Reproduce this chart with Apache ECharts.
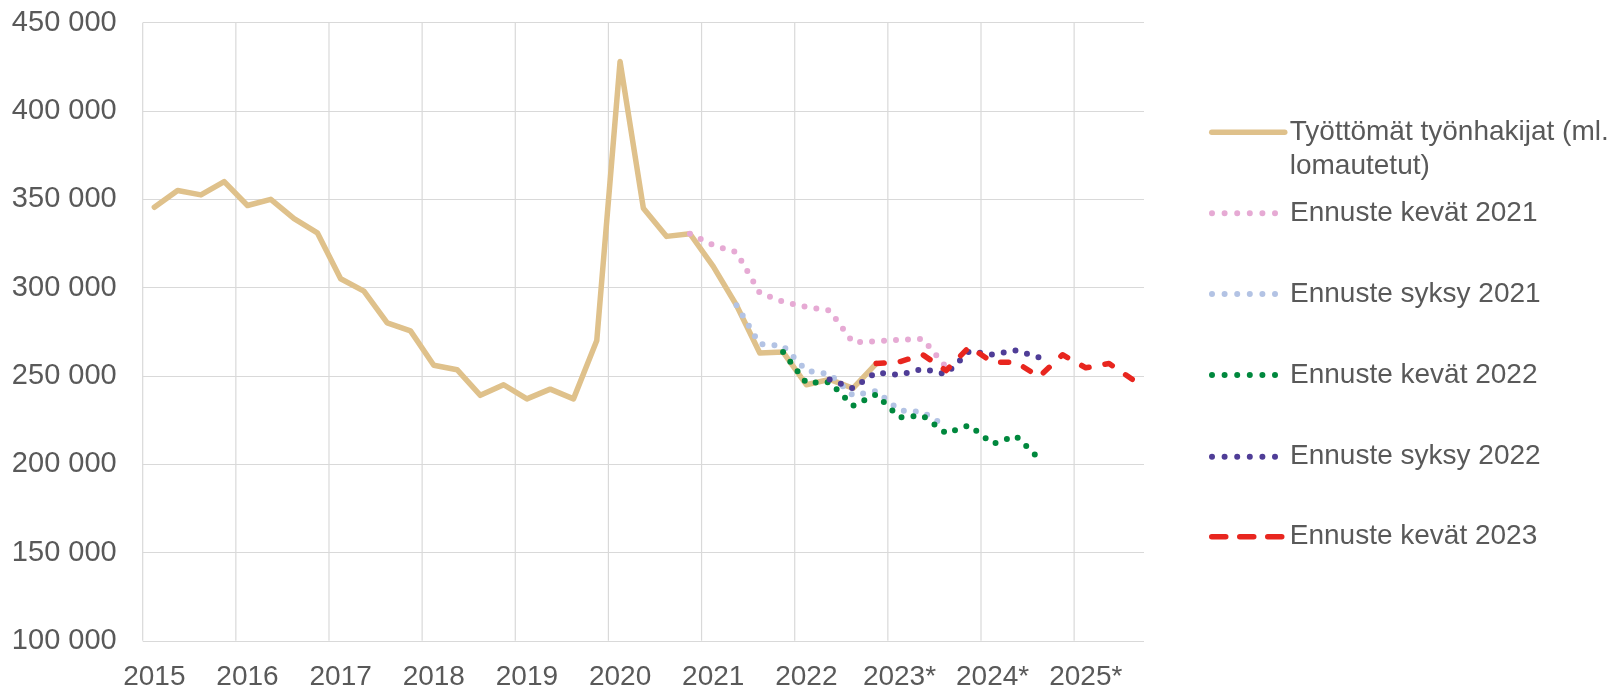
<!DOCTYPE html>
<html>
<head>
<meta charset="utf-8">
<script src="https://cdn.jsdelivr.net/npm/echarts@6/dist/echarts.min.js"></script>
<style>
  html, body { margin: 0; padding: 0; background: #fff; }
  #chart { width: 1624px; height: 687px; }
</style>
</head>
<body>
<div id="chart"></div>
<script>
// vuosien nimiöt x-akselille (neljännesvuosittain)
const yearLabels = ['2015', '2016', '2017', '2018', '2019', '2020', '2021', '2022', '2023*', '2024*', '2025*']
const quarters = ['Q1', 'Q2', 'Q3', 'Q4']
const categories = yearLabels.flatMap(y => quarters.map(q => y + ' ' + q)).slice(0, 43)

const yTicks = [100000, 150000, 200000, 250000, 300000, 350000, 400000, 450000]

// toteutunut
const tyottomat = [
  345500, 355000, 352500, 360000,
  346500, 350000, 339000, 331000,
  305000, 298000, 280000, 275500,
  256000, 253500, 239000, 245000,
  237000, 242500, 237000, 270000,
  428000, 345000, 329000, 330500,
  312000, 290000, 263000, 263500,
  245000, 248000, 243000, 257000
]

// ennusteet, alkavat indeksistä start
const kevat2021Start = 23
const kevat2021 = [330500, 324000, 320000, 297000, 292000, 289000, 287000, 269000, 269500, 270500, 271000, 255000]

const syksy2021Start = 25
const syksy2021 = [290000, 268000, 267000, 253000, 251000, 239000, 241500, 230500, 229500, 221500]

const kevat2022Start = 27
const kevat2022 = [263500, 246000, 246500, 233000, 239500, 226500, 227500, 217500, 222000, 211500, 216000, 203000]

const syksy2022Start = 29
const syksy2022 = [248000, 243000, 252000, 250500, 254000, 251000, 264000, 262000, 264500, 260500]

const kevat2023Start = 31
const kevat2023 = [257000, 258000, 262000, 253000, 266500, 257700, 257700, 249500, 262000, 254600, 257000, 248000]

const place = (start, vals) => categories.map((c, i) => (i >= start && i < start + vals.length) ? vals[i - start] : null)

const textColor = '#595959'
const gridColor = '#D9D9D9'
const font = 'Liberation Sans, Arial, sans-serif'
const dots = [0, 12]

const seriesDefs = [
  { name: 'Työttömät työnhakijat (ml.\nlomautetut)', data: tyottomat, color: '#DFC18B', width: 5.5, type: 'solid', legendType: 'solid', y: 132.3 },
  { name: 'Ennuste kevät 2021', data: place(kevat2021Start, kevat2021), color: '#E6AAD4', width: 6, type: dots, legendType: [0, 12.6], y: 213.3 },
  { name: 'Ennuste syksy 2021', data: place(syksy2021Start, syksy2021), color: '#B3C3E4', width: 6, type: dots, legendType: [0, 12.6], y: 294 },
  { name: 'Ennuste kevät 2022', data: place(kevat2022Start, kevat2022), color: '#00883D', width: 6, type: dots, legendType: [0, 12.6], y: 375 },
  { name: 'Ennuste syksy 2022', data: place(syksy2022Start, syksy2022), color: '#4F3D97', width: 6, type: dots, legendType: [0, 12.6], y: 456.7 },
  { name: 'Ennuste kevät 2023', data: place(kevat2023Start, kevat2023), color: '#E8261F', width: 5.5, type: [8, 16.2], legendType: [14, 14], y: 536.7 }
]

const chart = echarts.init(document.getElementById('chart'))

// yksi selite per sarja, jotta rivit saa täsmälleen paikoilleen
const legends = seriesDefs.map((s, i) => ({
  data: [s.name],
  orient: 'vertical',
  left: 1209,
  top: i === 0 ? s.y - 51 : s.y - 17,
  padding: 0,
  itemWidth: 73,
  itemHeight: 1,
  selectedMode: false,
  itemStyle: { color: 'rgba(0,0,0,0)', borderWidth: 0, opacity: 0 },
  lineStyle: { width: s.width, type: s.legendType, cap: 'round' },
  // kaksirivinen nimi: tyhjä rivi yläpuolelle, jolloin merkki osuu ensimmäiselle riville
  formatter: n => (n.indexOf('\n') >= 0 ? '\u00a0\n' + n : n),
  textStyle: {
    color: textColor,
    fontFamily: font,
    fontSize: 28,
    lineHeight: 34
  }
}))

// pystyviivat vuosien rajoille (ei viivaa oikeaan reunaan)
const yearStarts = yearLabels.map((y, i) => categories[i * 4])

const gridSeries = {
  type: 'custom',
  silent: true,
  z: 1,
  data: yearStarts.map(c => [c, yTicks[0]]),
  renderItem: (params, api) => {
    const half = api.size([1, 0])[0] / 2
    const x = api.coord([api.value(0), yTicks[0]])[0] - half
    const cs = params.coordSys
    return {
      type: 'line',
      shape: { x1: x, y1: cs.y, x2: x, y2: cs.y + cs.height },
      style: { stroke: gridColor, lineWidth: 1.2 }
    }
  }
}

const option = {
  animation: false,
  backgroundColor: '#ffffff',
  grid: { left: 142.7, right: 480, top: 22.7, bottom: 46.2, containLabel: false, outerBoundsMode: 'none' },
  legend: legends,
  xAxis: {
    type: 'category',
    data: categories,
    boundaryGap: true,
    axisLine: { show: false },
    axisTick: { show: false },
    axisLabel: {
      interval: 3,
      margin: 22,
      color: textColor,
      fontFamily: font,
      fontSize: 28,
      formatter: v => v.split(' ')[0]
    },
    splitLine: { show: false }
  },
  yAxis: {
    type: 'value',
    min: yTicks[0],
    max: yTicks[yTicks.length - 1],
    interval: 50000,
    axisLine: { show: false },
    axisTick: { show: false },
    axisLabel: {
      margin: 26,
      padding: [4, 0, 0, 0],
      color: textColor,
      fontFamily: font,
      fontSize: 29,
      formatter: v => String(v).replace(/\B(?=(\d{3})+(?!\d))/g, ' ')
    },
    splitLine: { lineStyle: { color: gridColor, width: 1.2 } }
  },
  series: [gridSeries].concat(seriesDefs.map(s => ({
    name: s.name,
    type: 'line',
    z: 2,
    data: s.data,
    showSymbol: false,
    symbol: 'none',
    connectNulls: false,
    color: s.color,
    lineStyle: { color: s.color, width: s.width, type: s.type, cap: 'round', join: 'round' }
  })))
}

chart.setOption(option)
</script>
</body>
</html>
